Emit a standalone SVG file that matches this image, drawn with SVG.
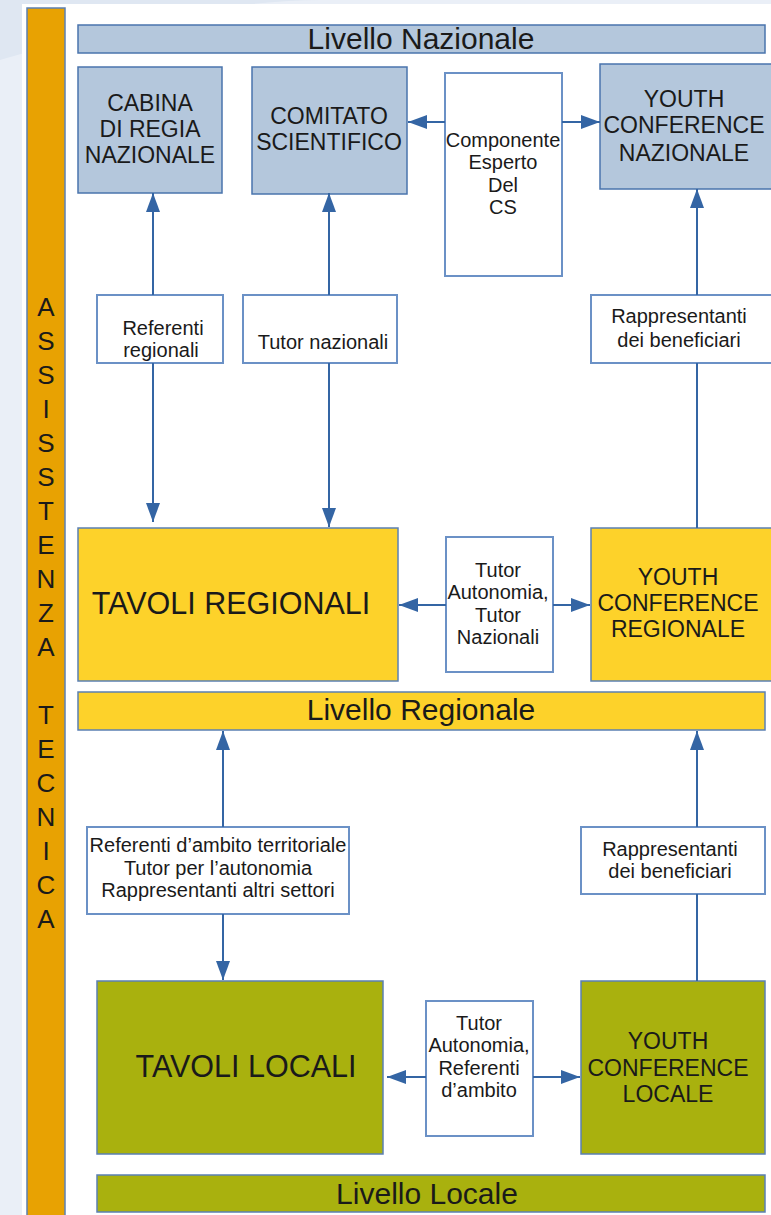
<svg xmlns="http://www.w3.org/2000/svg" width="771" height="1215" viewBox="0 0 771 1215">
<defs>
<marker id="ah" markerUnits="userSpaceOnUse" markerWidth="20" markerHeight="16" viewBox="0 0 20 16" refX="19" refY="8" orient="auto">
<path d="M0,1 L19,8 L0,15 Z" fill="#3465a4"/>
</marker>
</defs>
<style>
.t{font-family:"Liberation Sans",Arial,sans-serif;fill:#1a1a1a;text-anchor:middle}
.big{font-size:23px}
.sm{font-size:20px}
.lv{font-size:30px}
.tv{font-size:30.5px}
.vt{font-size:26px}
.blue{fill:#b4c7dc;stroke:#4a74ad;stroke-width:1.5}
.yel{fill:#fdd22a;stroke:#5b80b3;stroke-width:1.5}
.olv{fill:#a9b10e;stroke:#5b80b3;stroke-width:1.5}
.lab{fill:#ffffff;stroke:#6b91c6;stroke-width:2}
.cn{stroke:#3465a4;stroke-width:2;fill:none}
</style>
<rect x="0" y="0" width="771" height="1215" fill="#eaeff7"/>
<path d="M0,60 Q200,0 320,0 L0,0 Z" fill="#dfe7f2"/>
<rect x="22" y="4" width="749" height="1211" fill="#ffffff"/>
<g id="assistenza">
<rect x="27" y="8" width="38" height="1212" fill="#e8a202" stroke="#5b80b3" stroke-width="1.5"/>
<g class="t vt">
<text x="46" y="316">A</text><text x="46" y="350">S</text><text x="46" y="384">S</text><text x="46" y="418">I</text><text x="46" y="452">S</text><text x="46" y="486">S</text><text x="46" y="520">T</text><text x="46" y="554">E</text><text x="46" y="588">N</text><text x="46" y="622">Z</text><text x="46" y="656">A</text>
<text x="46" y="724">T</text><text x="46" y="758">E</text><text x="46" y="792">C</text><text x="46" y="826">N</text><text x="46" y="860">I</text><text x="46" y="894">C</text><text x="46" y="928">A</text>
</g>
</g>
<g id="livello-nazionale"><rect class="blue" x="78" y="25" width="687" height="28"/><text class="t lv" x="421" y="49">Livello Nazionale</text></g>
<g id="cabina"><rect class="blue" x="78" y="67" width="144" height="126"/><text class="t big"><tspan x="150" y="111">CABINA</tspan><tspan x="150" y="137">DI REGIA</tspan><tspan x="150" y="163">NAZIONALE</tspan></text></g>
<g id="comitato"><rect class="blue" x="252" y="67" width="155" height="127"/><text class="t big"><tspan x="329" y="124">COMITATO</tspan><tspan x="329" y="150">SCIENTIFICO</tspan></text></g>
<g id="componente"><rect class="lab" x="445" y="73" width="117" height="203"/><text class="t sm"><tspan x="503" y="147">Componente</tspan><tspan x="503" y="169">Esperto</tspan><tspan x="503" y="192">Del</tspan><tspan x="503" y="214">CS</tspan></text></g>
<g id="youth-nazionale"><rect class="blue" x="600" y="64" width="180" height="125"/><text class="t big"><tspan x="684" y="107">YOUTH</tspan><tspan x="684" y="133">CONFERENCE</tspan><tspan x="684" y="161">NAZIONALE</tspan></text></g>
<g id="referenti-regionali"><rect class="lab" x="97" y="295" width="126" height="68"/><text class="t sm"><tspan x="163" y="335">Referenti</tspan><tspan x="161" y="357">regionali</tspan></text></g>
<g id="tutor-nazionali"><rect class="lab" x="243" y="295" width="154" height="68"/><text class="t sm" x="323" y="349">Tutor nazionali</text></g>
<g id="rappresentanti-reg"><rect class="lab" x="591" y="295" width="185" height="68"/><text class="t sm"><tspan x="679" y="323">Rappresentanti</tspan><tspan x="679" y="347">dei beneficiari</tspan></text></g>
<g id="tavoli-regionali"><rect class="yel" x="78" y="528" width="320" height="153"/><text class="t tv" x="231" y="614">TAVOLI REGIONALI</text></g>
<g id="tutor-autonomia-naz"><rect class="lab" x="446" y="537" width="107" height="135"/><text class="t sm"><tspan x="498" y="577">Tutor</tspan><tspan x="498" y="599">Autonomia,</tspan><tspan x="498" y="622">Tutor</tspan><tspan x="498" y="644">Nazionali</tspan></text></g>
<g id="youth-regionale"><rect class="yel" x="591" y="528" width="185" height="153"/><text class="t big"><tspan x="678" y="585">YOUTH</tspan><tspan x="678" y="611">CONFERENCE</tspan><tspan x="678" y="637">REGIONALE</tspan></text></g>
<g id="livello-regionale"><rect class="yel" x="78" y="692" width="687" height="38"/><text class="t lv" x="421" y="720">Livello Regionale</text></g>
<g id="referenti-ambito"><rect class="lab" x="87" y="827" width="262" height="87"/><text class="t sm"><tspan x="218" y="852">Referenti d’ambito territoriale</tspan><tspan x="218" y="875">Tutor per l’autonomia</tspan><tspan x="218" y="897">Rappresentanti altri settori</tspan></text></g>
<g id="rappresentanti-loc"><rect class="lab" x="581" y="827" width="184" height="67"/><text class="t sm"><tspan x="670" y="856">Rappresentanti</tspan><tspan x="670" y="878">dei beneficiari</tspan></text></g>
<g id="tavoli-locali"><rect class="olv" x="97" y="981" width="286" height="173"/><text class="t tv" x="246" y="1077">TAVOLI LOCALI</text></g>
<g id="tutor-autonomia-ref"><rect class="lab" x="426" y="1001" width="107" height="135"/><text class="t sm"><tspan x="479" y="1030">Tutor</tspan><tspan x="479" y="1052">Autonomia,</tspan><tspan x="479" y="1075">Referenti</tspan><tspan x="479" y="1097">d’ambito</tspan></text></g>
<g id="youth-locale"><rect class="olv" x="581" y="981" width="184" height="173"/><text class="t big"><tspan x="668" y="1049">YOUTH</tspan><tspan x="668" y="1076">CONFERENCE</tspan><tspan x="668" y="1102">LOCALE</tspan></text></g>
<g id="livello-locale"><rect class="olv" x="97" y="1175" width="668" height="37"/><text class="t lv" x="427" y="1204">Livello Locale</text></g>
<g id="connectors">
<line class="cn" x1="153" y1="295" x2="153" y2="193" marker-end="url(#ah)"/>
<line class="cn" x1="153" y1="363" x2="153" y2="522" marker-end="url(#ah)"/>
<line class="cn" x1="329" y1="295" x2="329" y2="193" marker-end="url(#ah)"/>
<line class="cn" x1="329" y1="363" x2="329" y2="527" marker-end="url(#ah)"/>
<line class="cn" x1="697" y1="295" x2="697" y2="189" marker-end="url(#ah)"/>
<line class="cn" x1="697" y1="363" x2="697" y2="528"/>
<line class="cn" x1="445" y1="122" x2="408" y2="122" marker-end="url(#ah)"/>
<line class="cn" x1="562" y1="122" x2="600" y2="122" marker-end="url(#ah)"/>
<line class="cn" x1="446" y1="605" x2="399" y2="605" marker-end="url(#ah)"/>
<line class="cn" x1="553" y1="605" x2="590" y2="605" marker-end="url(#ah)"/>
<line class="cn" x1="223" y1="827" x2="223" y2="731" marker-end="url(#ah)"/>
<line class="cn" x1="223" y1="914" x2="223" y2="980" marker-end="url(#ah)"/>
<line class="cn" x1="697" y1="827" x2="697" y2="731" marker-end="url(#ah)"/>
<line class="cn" x1="697" y1="894" x2="697" y2="981"/>
<line class="cn" x1="426" y1="1077" x2="387" y2="1077" marker-end="url(#ah)"/>
<line class="cn" x1="533" y1="1077" x2="580" y2="1077" marker-end="url(#ah)"/>
</g>
</svg>
